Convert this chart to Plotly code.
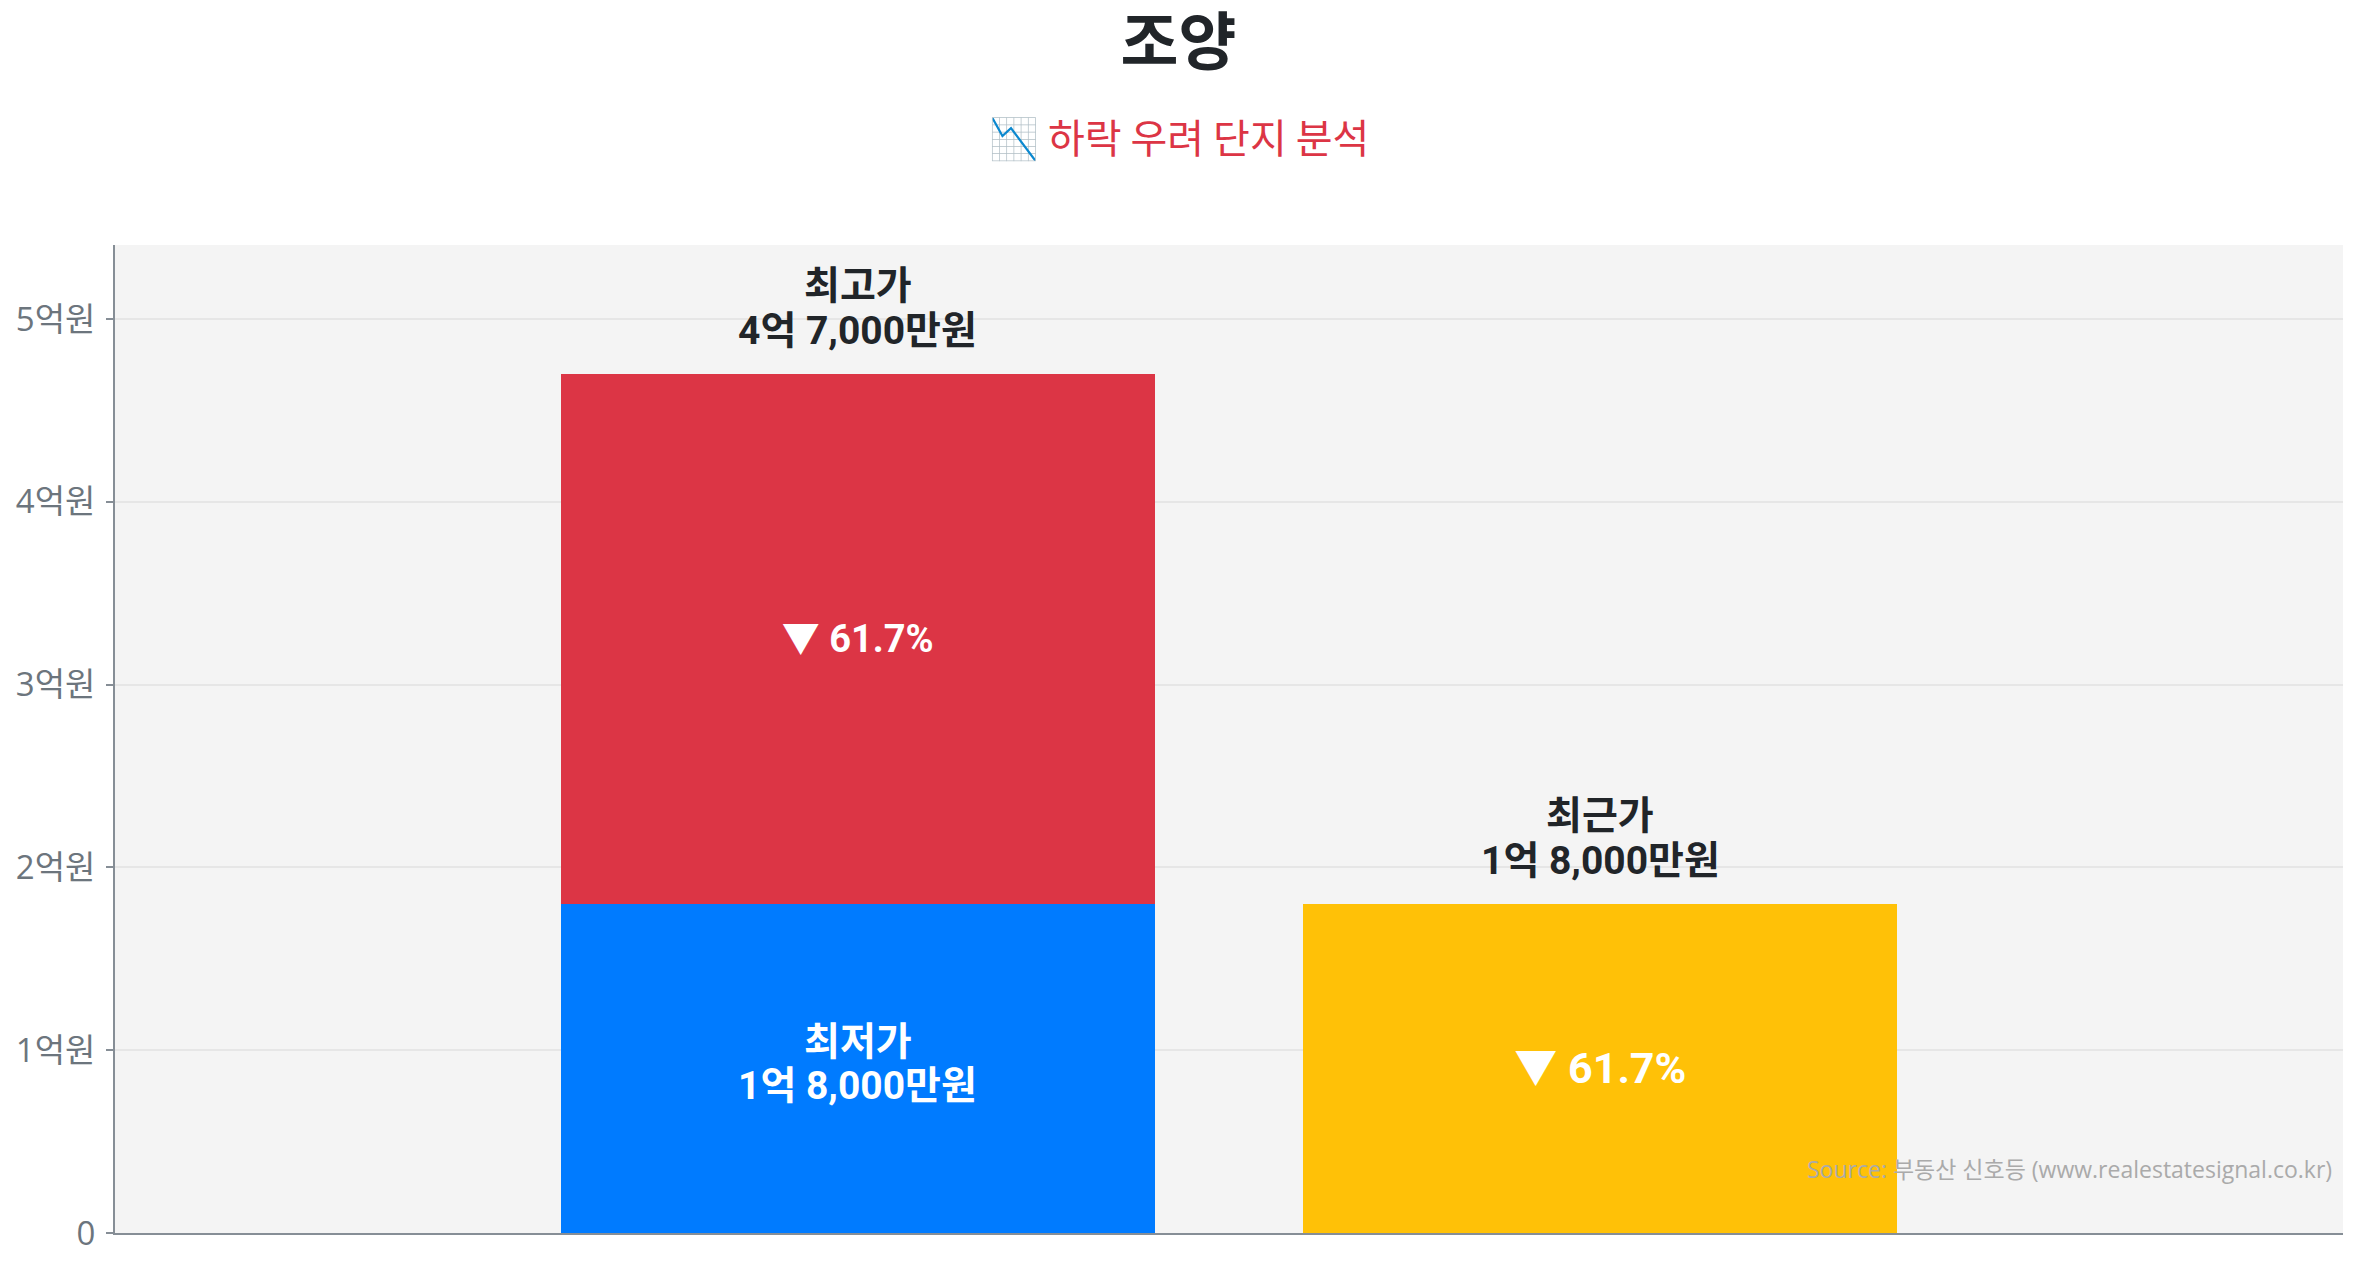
import plotly.graph_objects as go

# ---- data ----
categories = ["최고/최저가", "최근가"]
low_price = [1.8e8]          # 최저가
high_price = [4.7e8]         # 최고가
recent_price = [1.8e8]       # 최근가
drop_pct = 61.7

title_text = "조양"
subtitle_text = "📉 하락 우려 단지 분석"
source_text = "Source: 부동산 신호등 (www.realestatesignal.co.kr)"

label_names = ["최저가", "최고가", "최근가"]
label_prices = ["1억 8,000만원", "4억 7,000만원", "1억 8,000만원"]
drop_label = f"▼ {drop_pct}%"

tick_vals = [0, 1e8, 2e8, 3e8, 4e8, 5e8]
tick_text = ["0", "1억원", "2억원", "3억원", "4억원", "5억원"]

y_max = high_price[0] * 1.15

KFONT = "Roboto, 'Noto Sans CJK KR', sans-serif"
TFONT = "'Open Sans', 'Noto Sans CJK KR', sans-serif"

W, H = 2341, 1252  # page body has an 8px margin
M_L, M_R, M_T, M_B = 107, 6, 237, 27
PLOT_H = H - M_T - M_B

fig = go.Figure()

fig.add_trace(go.Bar(
    x=[categories[0]], y=low_price,
    marker=dict(color="#007bff", line=dict(width=0)),
    width=0.8, hoverinfo="skip", showlegend=False,
))
fig.add_trace(go.Bar(
    x=[categories[0]], y=[high_price[0] - low_price[0]],
    marker=dict(color="#dc3545", line=dict(width=0)),
    text=[drop_label], textposition="inside", insidetextanchor="middle",
    textangle=0,
    textfont=dict(family=KFONT, size=38, color="white", weight="bold"),
    width=0.8, hoverinfo="skip", showlegend=False,
))
fig.add_trace(go.Bar(
    x=[categories[1]], y=recent_price,
    marker=dict(color="#ffc107", line=dict(width=0)),
    text=[drop_label], textposition="inside", insidetextanchor="middle",
    textangle=0,
    textfont=dict(family=KFONT, size=43, color="white", weight="bold"),
    width=0.8, hoverinfo="skip", showlegend=False,
))

dark_font = dict(family=KFONT, size=39, color="#212529", weight="bold")
white_font = dict(family=KFONT, size=39, color="white", weight="bold")

annotations = []
# 최저가 label inside the blue bar (two lines)
annotations.append(dict(x=categories[0], y=low_price[0] / 2, xref="x", yref="y",
                        text=label_names[0], showarrow=False, yanchor="middle",
                        yshift=26, font=white_font))
annotations.append(dict(x=categories[0], y=low_price[0] / 2, xref="x", yref="y",
                        text=label_prices[0], showarrow=False, yanchor="middle",
                        yshift=-18, font=white_font))
# 최고가 label above the stacked bar
annotations.append(dict(x=categories[0], y=high_price[0], xref="x", yref="y",
                        text=label_names[1], showarrow=False, yanchor="middle",
                        yshift=88, font=dark_font))
annotations.append(dict(x=categories[0], y=high_price[0], xref="x", yref="y",
                        text=label_prices[1], showarrow=False, yanchor="middle",
                        yshift=43, font=dark_font))
# 최근가 label above the yellow bar
annotations.append(dict(x=categories[1], y=recent_price[0], xref="x", yref="y",
                        text=label_names[2], showarrow=False, yanchor="middle",
                        yshift=88, font=dark_font))
annotations.append(dict(x=categories[1], y=recent_price[0], xref="x", yref="y",
                        text=label_prices[2], showarrow=False, yanchor="middle",
                        yshift=43, font=dark_font))
# source
annotations.append(dict(x=1, y=0.0645, xref="paper", yref="paper", xanchor="right",
                        yanchor="middle", xshift=-9,
                        text=source_text, showarrow=False,
                        font=dict(family=TFONT, size=23, color="#aaaaaa")))
# subtitle
annotations.append(dict(x=0.5, y=(H - M_B - 128) / PLOT_H, xref="paper", yref="paper",
                        xanchor="center", yanchor="middle",
                        xshift=(W / 2) - (M_L + (W - M_L - M_R) / 2),
                        text=subtitle_text, showarrow=False,
                        font=dict(family="'Noto Sans CJK KR', sans-serif", size=40,
                                  color="#dc3545")))

fig.update_layout(
    width=W, height=H,
    barmode="stack",
    paper_bgcolor="white",
    plot_bgcolor="#f4f4f4",
    margin=dict(l=M_L, r=M_R, t=M_T, b=M_B),
    title=dict(
        text=f"<b>{title_text}</b>",
        x=0.5, xref="container", xanchor="center",
        y=1 - 34 / H, yref="container", yanchor="middle",
        font=dict(family="'Noto Sans CJK KR', sans-serif", size=63, color="#212529"),
    ),
    annotations=annotations,
    xaxis=dict(
        range=[-1, 2], showticklabels=False, ticks="", showgrid=False,
        showline=True, linecolor="#868e96", linewidth=2, zeroline=False,
        fixedrange=True,
    ),
    yaxis=dict(
        range=[0, y_max], tickvals=tick_vals, ticktext=tick_text,
        ticks="outside", ticklen=7, tickwidth=2, tickcolor="#868e96",
        showline=True, linecolor="#868e96", linewidth=2,
        showgrid=True, gridcolor="#e6e6e6", gridwidth=2, zeroline=False,
        tickfont=dict(family=TFONT, size=33, color="#6c757d"),
        ticklabelstandoff=4,
    ),
)

fig.write_html("out.html")
